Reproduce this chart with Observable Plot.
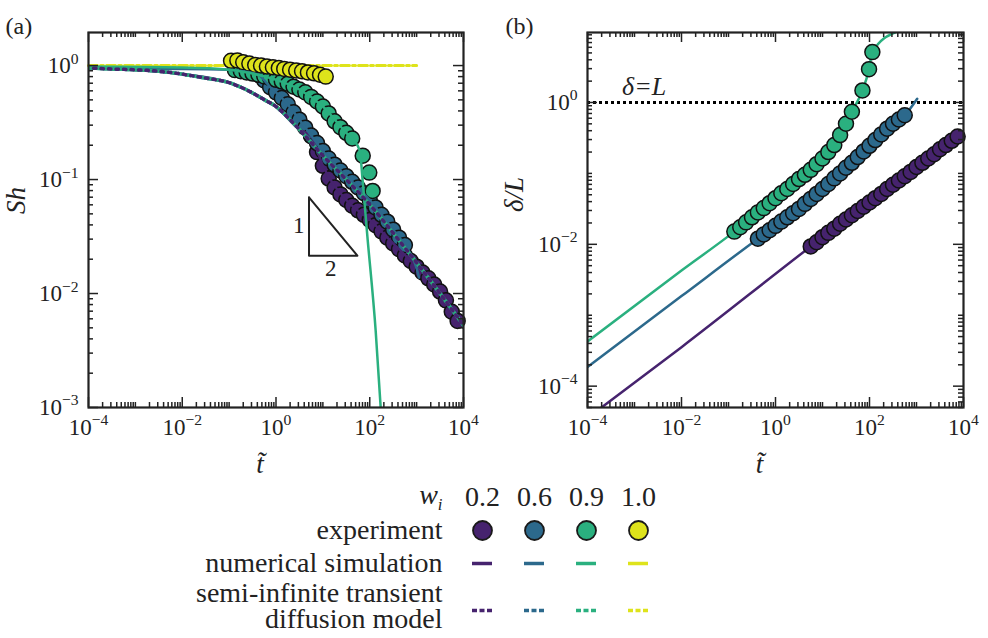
<!DOCTYPE html>
<html>
<head>
<meta charset="utf-8">
<script src="https://cdn.jsdelivr.net/npm/d3@7"></script>
<script src="https://cdn.jsdelivr.net/npm/@observablehq/plot@0.6"></script>
<style>
  body { margin: 0; background: #fff; }
  #wrap { position: relative; width: 988px; height: 638px; overflow: hidden; }
  #wrap > div { position: absolute; }
  #wrap svg { overflow: visible; }
  #wrap svg, #wrap svg text { font-family: "Liberation Serif", "DejaVu Serif", serif !important; }
</style>
</head>
<body>
<div id="wrap">
  <div id="pa" style="left:0;top:0"></div>
  <div id="pb" style="left:494px;top:0"></div>
  <div id="lg" style="left:0;top:470px"></div>
</div>
<script>
// ---------- data ----------
const wLabels = ["0.2", "0.6", "0.9", "1.0"];
const colors  = ["#46236e", "#2c698c", "#2ab07f", "#dee31b"];

// experiment times (dimensionless t~)
const tPurple = [5.62,7.5,10,13.3,17.8,23.7,31.6,42.2,56.2,75,100,133,178,237,316,422,562,750,1000,1334,1778,2371,3162,4217,5623,7499];
const tBlue   = [0.422,0.562,0.75,1,1.33,1.78,2.37,3.16,4.22,5.62,7.5,10,13.3,17.8,23.7,31.6,42.2,56.2,75,100,133,178,237,316,422,562];
const tGreen  = [0.133,0.178,0.237,0.316,0.422,0.562,0.75,1,1.33,1.78,2.37,3.16,4.22,5.62,7.5,10,13.3,17.8,23.7,31.6,42.2,70.8,97.7,115];
const tYellow = [0.11,0.15,0.2,0.27,0.36,0.48,0.64,0.86,1.15,1.5,2.0,2.7,3.6,4.8,6.5,8.7,11.5];

// panel (a): Sherwood number, experiments
const shPurple = [0.240,0.174,0.132,0.102,0.0851,0.0741,0.0661,0.0589,0.0537,0.0490,0.0442,0.0398,0.0351,0.0309,0.0275,0.0245,0.0216,0.0193,0.0172,0.0153,0.0136,0.0120,0.0104,0.00871,0.00692,0.00575];
const shBlue   = [0.832,0.741,0.646,0.582,0.519,0.457,0.389,0.335,0.285,0.243,0.209,0.178,0.153,0.135,0.120,0.107,0.0955,0.0851,0.0759,0.0661,0.0569,0.0490,0.0427,0.0363,0.0309,0.0266];
const shGreen  = [0.912,0.891,0.871,0.851,0.832,0.804,0.776,0.750,0.724,0.692,0.653,0.617,0.582,0.531,0.484,0.437,0.380,0.324,0.288,0.257,0.229,0.162,0.115,0.0794];
const shYellow = [1.10,1.11,1.07,1.04,1.01,1.0,0.98,0.965,0.95,0.935,0.92,0.905,0.89,0.87,0.855,0.83,0.80];

// panel (a): numerical simulation lines
const tSimPurple  = [1e-4,1e-2,0.1,0.316,1,3.16,5.62,10,31.6,100,316,1000,3162,1e4];
const shSimPurple = [0.951,0.841,0.708,0.575,0.437,0.275,0.240,0.132,0.0661,0.0442,0.0275,0.0172,0.0104,0.0050];
const tSimBlue    = [1e-4,1e-2,0.1,0.2,0.316,0.422,0.562,0.75,1,1.78,3.16,5.62,10,17.8,31.6,56.2,100,178,316,562,1000,1122];
const shSimBlue   = [0.94,0.935,0.92,0.89,0.86,0.832,0.741,0.646,0.582,0.457,0.335,0.243,0.178,0.135,0.107,0.0851,0.0661,0.0490,0.0363,0.0266,0.0166,0.0138];
const tSimGreen   = [1e-4,1e-2,0.1,0.316,1,3.16,10,31.6,42.2,61.7,69.5,89.1,133.7,171,200];
const shSimGreen  = [0.98,0.96,0.92,0.851,0.750,0.617,0.437,0.257,0.229,0.178,0.105,0.0316,0.00472,0.001,0.000316];
const tYellowLine  = [1e-4, 1000];
const shYellowLine = [1, 1];

// panel (a): semi-infinite transient diffusion model
const tModel  = [1e-4,3.16e-4,1e-3,3.16e-3,1e-2,3.16e-2,0.1,0.178,0.316,0.562,1,1.78,3.16,5.62,10,31.6,100,316,1000,3162,1e4];
const shModel = [0.951,0.933,0.918,0.891,0.841,0.776,0.708,0.646,0.575,0.501,0.437,0.351,0.275,0.211,0.162,0.100,0.0603,0.0339,0.0186,0.0100,0.00525];

// slope triangle (1:2) in data coordinates of panel (a)
const triT  = [5.06, 5.06, 54.5, 5.06];
const triSh = [0.0698, 0.0215, 0.0215, 0.0698];
const triLabels = [{t: 3.05, v: 0.0397, s: "1"}, {t: 14.8, v: 0.0166, s: "2"}];

// panel (b): penetration depth delta/L, experiments
const dPurple = [0.00933,0.0107,0.0126,0.0145,0.0166,0.0195,0.0224,0.0257,0.0295,0.0339,0.0389,0.0447,0.0513,0.0603,0.0692,0.0794,0.0912,0.105,0.123,0.141,0.162,0.186,0.219,0.251,0.288,0.331];
const dBlue   = [0.0120,0.0138,0.0158,0.0182,0.0209,0.0240,0.0275,0.0316,0.0372,0.0437,0.0513,0.0603,0.0708,0.0851,0.100,0.120,0.141,0.170,0.204,0.245,0.295,0.355,0.427,0.501,0.575,0.661];
const dGreen  = [0.0151,0.0174,0.0204,0.0240,0.0282,0.0324,0.0380,0.0447,0.0525,0.0603,0.0708,0.0832,0.0955,0.1122,0.135,0.162,0.200,0.251,0.347,0.501,0.741,1.48,2.95,5.13];

// panel (b): lines
const tLinePurple = [1e-4,1e-2,5.62,31.6,100,316,1000,3162,7499];
const dLinePurple = [3.55e-5,3.55e-4,0.00933,0.0224,0.0389,0.0692,0.123,0.219,0.331];
const tLineBlue   = [1e-4,1e-2,0.422,3.16,10,31.6,100,316,562,1035];
const dLineBlue   = [1.86e-4,1.86e-3,0.0120,0.0316,0.0603,0.120,0.245,0.501,0.661,1.127];
const tLineGreen  = [1e-4,1e-2,0.133,1,3.16,10,17.8,31.6,42.2,70.8,97.7,115,355];
const dLineGreen  = [4.27e-4,4.27e-3,0.0151,0.0447,0.0832,0.162,0.251,0.501,0.741,1.48,2.95,5.13,9.77];
const deltaEqualsL = [1];

// axes
const xDomain  = [1e-4, 1e4];
const yDomainA = [1e-3, 1.95];
const yDomainB = [5e-5, 9.7];
const xMajor   = [1e-4, 1e-2, 1, 1e2, 1e4];
const yMajorA  = [1e-3, 1e-2, 1e-1, 1];
const yMajorB  = [1e-4, 1e-2, 1];

// ---------- helpers ----------
const rows = (ts, vs) => ts.map((t, i) => ({t, v: vs[i]}));
const INK = "#222";
function logTicks([lo, hi]) {
  const out = [];
  for (let e = Math.floor(Math.log10(lo)); e <= Math.ceil(Math.log10(hi)); e++)
    for (let k = 1; k < 10; k++) {
      const v = +(k * Math.pow(10, e)).toPrecision(6);
      if (v >= lo * 0.9999 && v <= hi * 1.0001) out.push(v);
    }
  return out;
}
const isIn = (arr, v) => arr.some(m => Math.abs(m / v - 1) < 1e-6);
function tickMarks(xDom, yDom, xMaj, yMaj, FW, FH) {
  const xMin = logTicks(xDom).filter(v => !isIn(xMaj, v));
  const yMin = logTicks(yDom).filter(v => !isIn(yMaj, v));
  const o = {stroke: INK, strokeWidth: 1.5};
  const M = 10, m = 5;
  return [
    Plot.ruleX(xMaj, {...o, insetTop: FH - M}), Plot.ruleX(xMaj, {...o, insetBottom: FH - M}),
    Plot.ruleX(xMin, {...o, insetTop: FH - m}), Plot.ruleX(xMin, {...o, insetBottom: FH - m}),
    Plot.ruleY(yMaj, {...o, insetRight: FW - M}), Plot.ruleY(yMaj, {...o, insetLeft: FW - M}),
    Plot.ruleY(yMin, {...o, insetRight: FW - m}), Plot.ruleY(yMin, {...o, insetLeft: FW - m})
  ];
}
const expFmt = d => "10^" + Math.round(Math.log10(d));
function axes(xMaj, yMaj) {
  return [
    Plot.axisX({ticks: xMaj, tickSize: 0, tickPadding: 11, tickFormat: expFmt, fontSize: 23, label: null}),
    Plot.axisY({ticks: yMaj, tickSize: 0, tickPadding: 10, tickFormat: expFmt, fontSize: 23, label: null})
  ];
}
function richText(svg) {
  const ns = "http://www.w3.org/2000/svg";
  svg.querySelectorAll("text").forEach(t => {
    const s = t.textContent;
    let m = s.match(/^10\^(-?\d+)$/);
    if (m) {
      t.textContent = "10";
      const ts = document.createElementNS(ns, "tspan");
      ts.setAttribute("dy", "-0.6em");
      ts.setAttribute("font-size", "0.68em");
      ts.textContent = m[1].replace("-", "\u2212");
      t.appendChild(ts);
    } else if (s === "w_i") {
      t.textContent = "w";
      const ts = document.createElementNS(ns, "tspan");
      ts.setAttribute("dy", "0.35em");
      ts.setAttribute("font-size", "0.6em");
      ts.textContent = "i";
      t.appendChild(ts);
    }
  });
  return svg;
}
const baseStyle = {fontFamily: "'Liberation Serif', 'DejaVu Serif', serif", fontSize: "22px", color: INK, background: "transparent", overflow: "visible"};
const dotOpt = {r: 7.5, stroke: "#111", strokeWidth: 1.5};
const txt = {fill: INK};

// ---------- panel (a) ----------
const W = 494, H = 490;
const A = Plot.plot({
  width: W, height: H,
  marginLeft: 88, marginRight: 31, marginTop: 32, marginBottom: 83,
  x: {type: "log", domain: xDomain},
  y: {type: "log", domain: yDomainA},
  style: baseStyle,
  marks: [
    Plot.line(rows(tYellowLine, shYellowLine), {x: "t", y: "v", stroke: colors[3], strokeWidth: 3, strokeDasharray: "9,3,3,3"}),
    Plot.dot(rows(tPurple, shPurple), {x: "t", y: "v", fill: colors[0], ...dotOpt}),
    Plot.dot(rows(tBlue, shBlue), {x: "t", y: "v", fill: colors[1], ...dotOpt}),
    Plot.dot(rows(tGreen, shGreen), {x: "t", y: "v", fill: colors[2], ...dotOpt}),
    Plot.dot(rows(tYellow, shYellow), {x: "t", y: "v", fill: colors[3], ...dotOpt}),
    Plot.line(rows(tSimPurple, shSimPurple), {x: "t", y: "v", stroke: colors[0], strokeWidth: 2.5, curve: "monotone-x", clip: true}),
    Plot.line(rows(tSimBlue, shSimBlue), {x: "t", y: "v", stroke: colors[1], strokeWidth: 2.5, curve: "monotone-x", clip: true}),
    Plot.line(rows(tSimGreen, shSimGreen), {x: "t", y: "v", stroke: colors[2], strokeWidth: 2.5, curve: "monotone-x", clip: true}),
    Plot.line(rows(tModel, shModel), {x: "t", y: "v", stroke: colors[1], strokeWidth: 3.5, strokeDasharray: "5,2.5", curve: "monotone-x", clip: true}),
    Plot.line(rows(tModel, shModel), {x: "t", y: "v", stroke: colors[2], strokeWidth: 3.5, strokeDasharray: "5,2.5", curve: "monotone-x", clip: true}),
    Plot.line(rows(tModel, shModel), {x: "t", y: "v", stroke: colors[0], strokeWidth: 3.5, strokeDasharray: "2.5,5", strokeDashoffset: 2.5, curve: "monotone-x", clip: true}),
    Plot.line(rows(triT, triSh), {x: "t", y: "v", stroke: INK, strokeWidth: 2}),
    Plot.text(triLabels, {x: "t", y: "v", text: "s", fontSize: 23, ...txt}),
    ...tickMarks(xDomain, yDomainA, xMajor, yMajorA, 375, 375),
    Plot.frame({stroke: INK, strokeWidth: 2.2}),
    ...axes(xMajor, yMajorA),
    Plot.text(["(a)"], {text: d => d, frameAnchor: "top-left", dx: -83, dy: -16, textAnchor: "start", fontSize: 24, ...txt}),
    Plot.text(["Sh"], {text: d => d, frameAnchor: "left", dx: -72, dy: -6, rotate: -90, fontStyle: "italic", fontSize: 27, ...txt}),
    Plot.text(["t\u0303"], {text: d => d, frameAnchor: "bottom", dx: -16, dy: 65, fontStyle: "italic", fontSize: 27, ...txt})
  ]
});
document.getElementById("pa").appendChild(richText(A));

// ---------- panel (b) ----------
const B = Plot.plot({
  width: W, height: H,
  marginLeft: 93, marginRight: 25, marginTop: 32, marginBottom: 83,
  x: {type: "log", domain: xDomain},
  y: {type: "log", domain: yDomainB},
  style: baseStyle,
  marks: [
    Plot.ruleY(deltaEqualsL, {stroke: "#000", strokeWidth: 3, strokeDasharray: "3,3"}),
    Plot.line(rows(tLinePurple, dLinePurple), {x: "t", y: "v", stroke: colors[0], strokeWidth: 2.5, curve: "monotone-x", clip: true}),
    Plot.line(rows(tLineBlue, dLineBlue), {x: "t", y: "v", stroke: colors[1], strokeWidth: 2.5, curve: "monotone-x", clip: true}),
    Plot.line(rows(tLineGreen, dLineGreen), {x: "t", y: "v", stroke: colors[2], strokeWidth: 2.5, curve: "monotone-x", clip: true}),
    Plot.dot(rows(tPurple, dPurple), {x: "t", y: "v", fill: colors[0], ...dotOpt}),
    Plot.dot(rows(tBlue, dBlue), {x: "t", y: "v", fill: colors[1], ...dotOpt}),
    Plot.dot(rows(tGreen, dGreen), {x: "t", y: "v", fill: colors[2], ...dotOpt}),
    Plot.text([{t: 1.6e-3, v: 1.65}], {x: "t", y: "v", text: () => "\u03b4=L", fontStyle: "italic", fontSize: 26, ...txt}),
    ...tickMarks(xDomain, yDomainB, xMajor, yMajorB, 376, 375),
    Plot.frame({stroke: INK, strokeWidth: 2.2}),
    ...axes(xMajor, yMajorB),
    Plot.text(["(b)"], {text: d => d, frameAnchor: "top-left", dx: -82, dy: -16, textAnchor: "start", fontSize: 24, ...txt}),
    Plot.text(["\u03b4/L"], {text: d => d, frameAnchor: "left", dx: -73, dy: -8, rotate: -90, fontStyle: "italic", fontSize: 27, ...txt}),
    Plot.text(["t\u0303"], {text: d => d, frameAnchor: "bottom", dx: -16, dy: 65, fontStyle: "italic", fontSize: 27, ...txt})
  ]
});
document.getElementById("pb").appendChild(richText(B));

// ---------- legend ----------
const legendRows = ["header", "experiment", "simulation", "model"];
const rowText = [
  {row: "experiment", s: "experiment"},
  {row: "simulation", s: "numerical simulation"}
];
const modelText = [{row: "model", s: "semi-infinite transient\ndiffusion model"}];
const modelShift = 14;  // extra gap before the two-line row
const LF = 28;
const L = Plot.plot({
  width: 988, height: 168, margin: 0,
  x: {type: "point", domain: wLabels, range: [481.7, 638.7], padding: 0, axis: null},
  y: {type: "point", domain: legendRows, range: [26.7, 126.7], padding: 0, axis: null},
  color: {type: "identity"},
  style: {...baseStyle, fontSize: LF + "px"},
  marks: [
    Plot.text(wLabels, {x: d => d, y: () => "header", text: d => d, fontSize: LF, ...txt}),
    Plot.text(["w_i"], {x: () => wLabels[0], y: () => "header", text: d => d, dx: -40, dy: -2, textAnchor: "end", fontStyle: "italic", fontSize: LF, ...txt}),
    Plot.dot(wLabels, {x: d => d, y: () => "experiment", r: 9.5, fill: (d, i) => colors[i], stroke: "#1a1a1a", strokeWidth: 1.8}),
    Plot.ruleY(wLabels, {y: () => "simulation", x1: d => d, x2: d => d, insetLeft: -10, insetRight: -10, stroke: (d, i) => colors[i], strokeWidth: 3.5}),
    Plot.ruleY(wLabels, {y: () => "model", x1: d => d, x2: d => d, dy: modelShift, insetLeft: -10, insetRight: -10, stroke: (d, i) => colors[i], strokeWidth: 3.5, strokeDasharray: "5,2.5"}),
    Plot.text(rowText, {x: () => wLabels[0], y: "row", text: "s", dx: -40, textAnchor: "end", fontSize: LF, ...txt}),
    Plot.text(modelText, {x: () => wLabels[0], y: "row", text: "s", dx: -40, dy: modelShift - 4, textAnchor: "end", lineHeight: 0.95, fontSize: LF, ...txt})
  ]
});
document.getElementById("lg").appendChild(richText(L));
</script>
</body>
</html>
